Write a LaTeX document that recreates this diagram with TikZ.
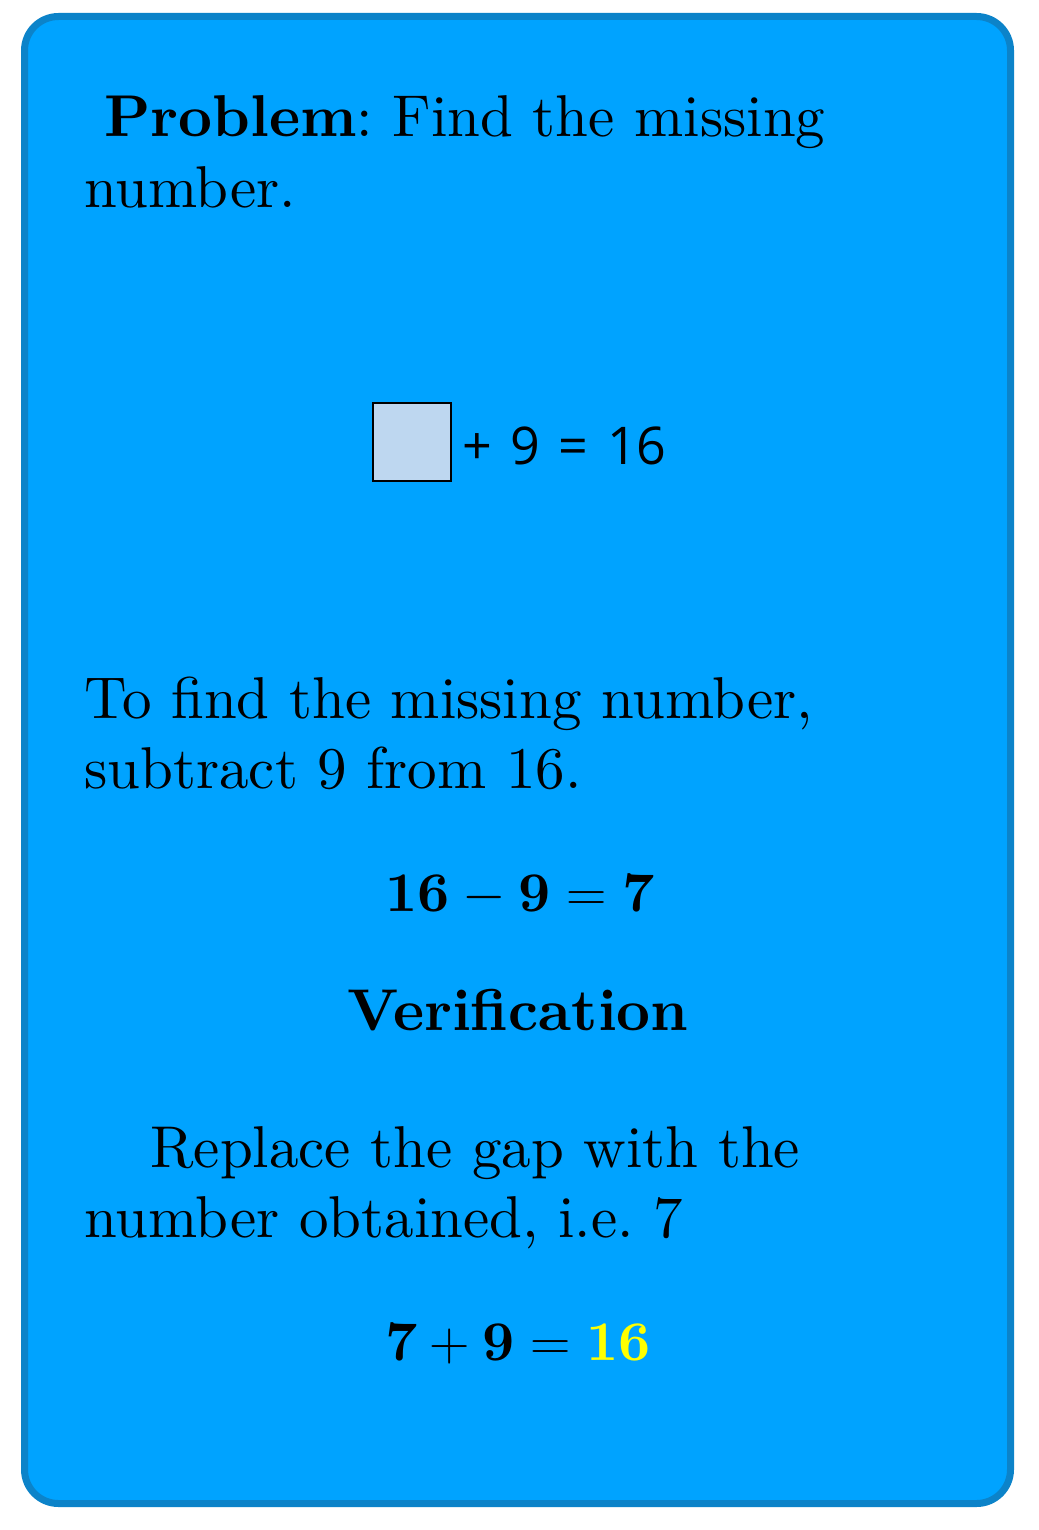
\RequirePackage{fix-cm}
\documentclass[tikz,border=0pt]{standalone}
\usepackage{fontspec}
\setmainfont{lmroman10}[Extension=.otf,UprightFont=*-regular,BoldFont=*-bold,ItalicFont=*-italic,BoldItalicFont=*-bolditalic]
\newfontfamily\eqfont{Open Sans}[WordSpace=1.37]
\definecolor{cardfill}{RGB}{0,163,255}
\definecolor{cardline}{RGB}{12,131,201}
\definecolor{gapfill}{RGB}{190,215,240}
\definecolor{answer}{RGB}{255,255,0}
\frenchspacing
\begin{document}
\begin{tikzpicture}[x=0.5pt,y=-0.5pt,
  txt/.style={inner sep=0pt,anchor=base west,font=\fontsize{29.5}{35.5}\selectfont\frenchspacing},
  ctr/.style={inner sep=0pt,anchor=base,font=\fontsize{29.5}{35.5}\selectfont},
  mth/.style={inner sep=0pt,anchor=base,font=\fontsize{28}{34}\selectfont}]
\useasboundingbox (0,0) rectangle (1038,1530);
\fill[white] (0,0) rectangle (1038,1530);
\draw[cardline,fill=cardfill,line width=3.5pt,rounded corners=17pt] (24.5,16.5) rectangle (1010.5,1503.5);
\node[txt] (p1) at (104,137) {\textbf{Problem}: Find the missing};
\node[txt] (p2) at (84,208) {number.};
\draw[black,fill=gapfill,line width=1pt] (373,403) rectangle (451,481);
\node[inner sep=0pt,anchor=base west,font=\eqfont\fontsize{26}{30}\selectfont] (eq) at (462,464) {+ 9 = 16};
\node[txt] (t1) at (84,718) {To find the missing number,};
\node[txt] (t2) at (84,788) {subtract 9 from 16.};
\node[mth] (m1) at (520,911) {$\mathbf{16}-\mathbf{9}=\mathbf{7}$};
\node[ctr] (v) at (518,1030) {\textbf{Verification}};
\node[txt] (r1) at (150,1167) {Replace the gap with the};
\node[txt] (r2) at (84,1237) {number obtained, i.e. 7};
\node[mth] (m2) at (518,1360) {$\mathbf{7}+\mathbf{9}=\textcolor{answer}{\mathbf{16}}$};
\end{tikzpicture}
\end{document}
